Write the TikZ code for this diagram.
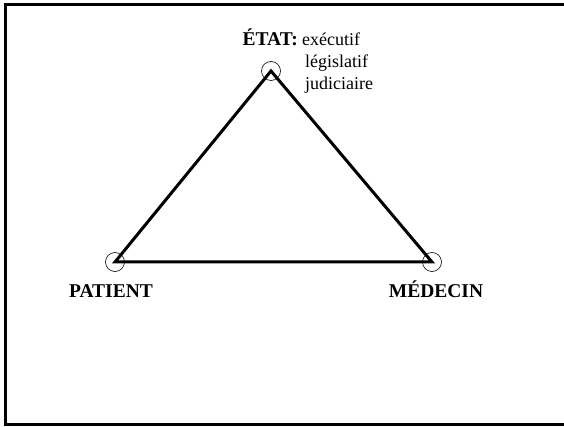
\documentclass[tikz,border=0pt]{standalone}
\usepackage{fontspec}
\setmainfont{Liberation Serif}
\begin{document}
\begin{tikzpicture}[x=1pt,y=-1pt,
  edge/.style={line width=3pt, line join=miter},
  vertexmark/.style={circle, draw, line width=0.6pt, minimum size=19pt, inner sep=0pt},
  lbl/.style={font=\fontsize{19.5}{22}\selectfont\bfseries, inner sep=0pt},
  subtext/.style={font=\fontsize{18}{22}\selectfont, inner sep=0pt, align=left}]
  \useasboundingbox (0,0) rectangle (564,427);
  \begin{scope}
    \clip (0,0) rectangle (564,427);
    \draw[line width=3pt] (570,5) -- (5,5) -- (5,424) -- (570,424);
  \end{scope}
  % the three corners
  \coordinate (etat) at (271,71);
  \coordinate (patient) at (115,262);
  \coordinate (medecin) at (432,262);
  \draw[edge] (etat) -- (patient) -- (medecin) -- cycle;
  \node[vertexmark] (cE) at (etat) {};
  \node[vertexmark] (cP) at (patient) {};
  \node[vertexmark] (cM) at (medecin) {};
  % labels
  \node[lbl, anchor=base] (lP) at (111,298) {PATIENT};
  \node[lbl, anchor=base] (lM) at (436,298) {MÉDECIN};
  \node[lbl, anchor=base east] (lE) at (298,46) {ÉTAT:};
  \node[subtext, anchor=base west] (l1) at (302,46) {exécutif};
  \node[subtext, anchor=base west] (l2) at (305,68) {législatif};
  \node[subtext, anchor=base west] (l3) at (305,90) {judiciaire};
\end{tikzpicture}
\end{document}
